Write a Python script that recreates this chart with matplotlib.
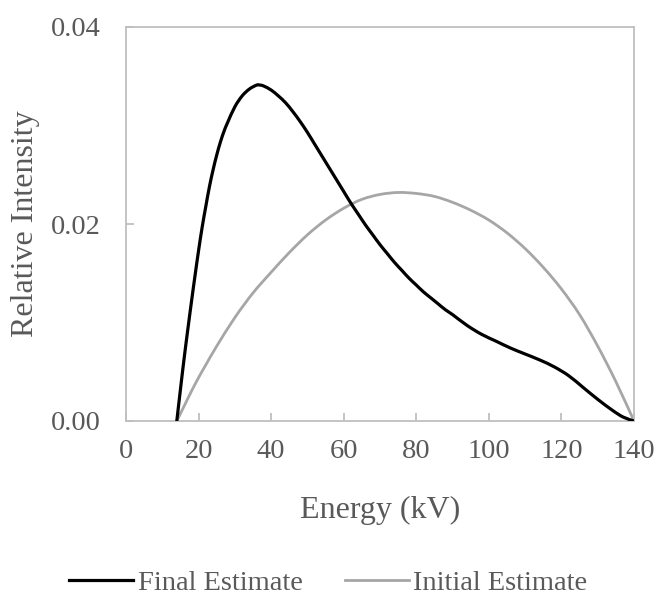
import matplotlib
matplotlib.use('Agg')
import matplotlib.pyplot as plt
from matplotlib.path import Path
from matplotlib.patches import PathPatch
from matplotlib.lines import Line2D

plt.rcParams['font.family'] = ['Liberation Serif', 'DejaVu Serif']

# 能量 (kV) 与相对强度
final_x = [14, 15, 16, 17, 18, 19, 20, 21, 22, 23, 24, 25, 26, 27, 28, 30, 32, 34, 36, 37,
           38, 40, 42, 44, 46, 48, 50, 52, 54, 56, 58, 60, 62, 64, 66, 68, 70, 72, 74, 76,
           78, 80, 82, 84, 86, 88, 90, 94, 98, 102, 106, 110, 114, 118, 122, 126, 130, 134, 137, 140]
final_y = [0, .0032, .0063, .0092, .0120, .0147, .0173, .0197, .0218, .0238, .0255, .0270, .0283, .0294,
           .0303, .0319, .0330, .0337, .0341, .0341, .0340, .0336, .0330, .0323, .0314, .0304, .0293,
           .0281, .0269, .0257, .0245, .0233, .0221, .0210, .0199, .0189, .0179, .0170, .0161, .0153,
           .0145, .0138, .0131, .0125, .0119, .0113, .0108, .0097, .0088, .0081, .0074, .0068, .0062,
           .0055, .0046, .0034, .0022, .0011, .0004, 0]

init_x = [14, 16, 18, 20, 22, 25, 30, 35, 40, 45, 50, 55, 60, 65, 70, 75, 80, 85, 90, 95, 100,
          105, 110, 115, 120, 125, 130, 135, 140]
init_y = [0, .0015, .0030, .0044, .0057, .0076, .0105, .0130, .0151, .0171, .0189, .0204, .0216,
          .0225, .0230, .0232, .0231, .0228, .0222, .0214, .0204, .0191, .0175, .0156, .0134,
          .0108, .0076, .0040, 0]

x_ticks = [0, 20, 40, 60, 80, 100, 120, 140]
y_ticks = [0.0, 0.02, 0.04]
y_tick_labels = ['0.00', '0.02', '0.04']

text_col = '#595959'
axis_col = '#BFBFBF'
black_col = 'black'
gray_col = '#A6A6A6'


def smooth_path(xs, ys):
    # Excel 风格的平滑线：经过每个数据点的贝塞尔曲线
    pts = list(zip(xs, ys))
    n = len(pts)
    verts = [pts[0]]
    codes = [Path.MOVETO]
    for i in range(n - 1):
        p0 = pts[max(i - 1, 0)]
        p1 = pts[i]
        p2 = pts[i + 1]
        p3 = pts[min(i + 2, n - 1)]
        c1 = (p1[0] + (p2[0] - p0[0]) / 6, p1[1] + (p2[1] - p0[1]) / 6)
        c2 = (p2[0] - (p3[0] - p1[0]) / 6, p2[1] - (p3[1] - p1[1]) / 6)
        verts += [c1, c2, p2]
        codes += [Path.CURVE4] * 3
    return Path(verts, codes)


fig = plt.figure(figsize=(6.57, 5.95), dpi=100)
ax = fig.add_axes([126 / 657, 1 - 421 / 595, 508 / 657, 394 / 595])

ax.add_patch(PathPatch(smooth_path(final_x, final_y), fill=False, edgecolor=black_col, lw=2.3,
                       joinstyle='round', capstyle='round', zorder=3))
ax.add_patch(PathPatch(smooth_path(init_x, init_y), fill=False, edgecolor=gray_col, lw=2.0,
                       joinstyle='round', capstyle='round', zorder=2))

ax.set_xlim(0, 140)
ax.set_ylim(0, 0.04)
ax.set_xticks(x_ticks)
ax.set_yticks(y_ticks)
ax.set_yticklabels(y_tick_labels)

for s in ax.spines.values():
    s.set_color(axis_col)
    s.set_linewidth(1.3)

ax.tick_params(axis='both', direction='in', length=6, width=1.3, color=axis_col,
               labelcolor=text_col, labelsize=20.5)
ax.tick_params(axis='x', pad=13)
ax.tick_params(axis='y', pad=18)

fig.text(26 / 657, 1 - 224 / 595, 'Relative Intensity', rotation=90, ha='center', va='center',
         fontsize=23, color=text_col)
fig.text(380 / 657, 1 - 510 / 595, 'Energy (kV)', ha='center', va='center',
         fontsize=23, color=text_col)

handles = [Line2D([], [], color=black_col, lw=2.3), Line2D([], [], color=gray_col, lw=2.0)]
leg = fig.legend(handles, ['Final Estimate', 'Initial Estimate'], loc='center',
                 bbox_to_anchor=(0.5, 1 - 583 / 595), ncol=2, frameon=False,
                 fontsize=20.5, handlelength=2.24, handletextpad=0.17, columnspacing=1.47)
for t in leg.get_texts():
    t.set_color(text_col)

fig.savefig('out.png', dpi=100)
